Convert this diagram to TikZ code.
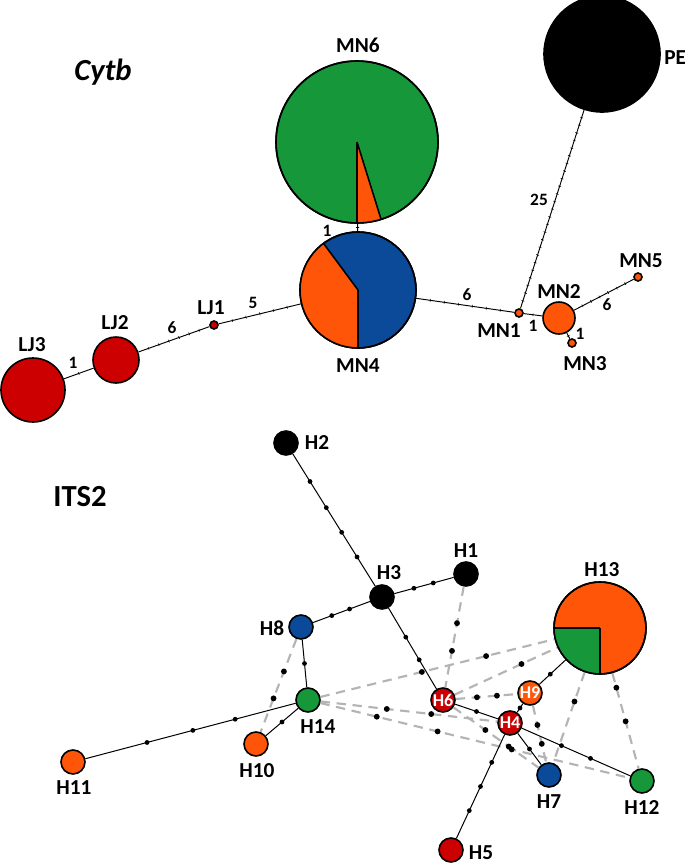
\documentclass[tikz,border=0pt]{standalone}
\usepackage{fontspec}
\setmainfont{Carlito}
\usetikzlibrary{calc,backgrounds,decorations.markings}
\definecolor{cgreen}{RGB}{22,152,58}
\definecolor{corange}{RGB}{255,85,8}
\definecolor{cblue}{RGB}{10,74,152}
\definecolor{cred}{RGB}{204,0,0}
\definecolor{cgray}{RGB}{180,180,180}
\newcommand\mydots[4]{\foreach \t in {#3}{\fill ($(#1)!\t!(#2)$) circle[radius=#4];}}
\begin{document}
\begin{tikzpicture}[x=0.75pt,y=-0.75pt,
  hap/.style={circle, draw=black, line width=1.2pt, inner sep=0pt, minimum size=#1*1.5pt},
  lab/.style={font=\bfseries\fontsize{16}{16}\selectfont, inner sep=0pt},
  num/.style={font=\bfseries\fontsize{13}{13}\selectfont, inner sep=0pt},
  inlab/.style={font=\bfseries\fontsize{13.5}{13.5}\selectfont, text=white},
  title/.style={font=\bfseries\fontsize{23}{23}\selectfont, inner sep=0pt},
  cyedge/.style={line width=0.7pt, black},
  mut/.style 2 args={postaction={decorate,decoration={markings,
      mark=between positions #1 and #2 step #1 with {\draw[line width=0.4pt] (0pt,-1.1pt) -- (0pt,1.1pt);}}}},
  sol/.style={line width=0.75pt, black},
  dsh/.style={cgray, line width=1.6pt, dash pattern=on 7pt off 5pt},
  sector/.style={line width=1.2pt, black}
]
\useasboundingbox (0,0) rectangle (685,864);

% ---------------- Cytb ----------------
\node[title] (tcyt) at (103,72) {\itshape Cytb};
\node[hap=81, fill=cgreen] (MN6) at (357,142) {};
\node[hap=58, fill=cblue] (MN4) at (358,290) {};
\node[hap=4, fill=cred] (LJ1) at (214,325) {};
\node[hap=23, fill=cred] (LJ2) at (116,360) {};
\node[hap=32, fill=cred] (LJ3) at (33,390) {};
\node[hap=4, fill=corange] (MN1) at (519,313) {};
\node[hap=16, fill=corange] (MN2) at (559,318) {};
\node[hap=4, fill=corange] (MN3) at (572,343) {};
\node[hap=4, fill=corange] (MN5) at (638,277) {};
\node[hap=58, fill=black] (PE) at (602,54) {};

% pie sectors
\fill[corange] (MN6.center) -- ++(-90:60.75pt) arc[start angle=-90, end angle=-72.7, radius=60.75pt] -- cycle;
\draw[sector] (MN6.center) -- ++(-90:60.75pt);
\draw[sector] (MN6.center) -- ++(-72.7:60.75pt);
\draw[sector] (MN6.center) circle[radius=60.75pt];

\fill[corange] (MN4.center) -- ++(126.5:43.5pt) arc[start angle=126.5, end angle=270, radius=43.5pt] -- cycle;
\draw[sector] (MN4.center) -- ++(126.5:43.5pt);
\draw[sector] (MN4.center) -- ++(-90:43.5pt);
\draw[sector] (MN4.center) circle[radius=43.5pt];

% labels
\node[lab] (lMN6) at (358,45) {MN6};
\node[lab] (lMN4) at (358,366) {MN4};
\node[lab] (lLJ1) at (211,308) {LJ1};
\node[lab] (lLJ2) at (115,323) {LJ2};
\node[lab] (lLJ3) at (32,345) {LJ3};
\node[lab] (lMN1) at (499,331) {MN1};
\node[lab] (lMN2) at (559,292) {MN2};
\node[lab] (lMN3) at (585,364) {MN3};
\node[lab] (lMN5) at (641,261) {MN5};
\node[lab, anchor=west] (lPE) at (664,58) {PE};
\node[num] (n1) at (73,363) {1};
\node[num] (n2) at (172,328) {6};
\node[num] (n3) at (253,303) {5};
\node[num] (n4) at (327,231) {1};
\node[num] (n5) at (467,295) {6};
\node[num] (n6) at (533,326) {1};
\node[num] (n7) at (580,334) {1};
\node[num] (n8) at (607,305) {6};
\node[num] (n9) at (539,200) {25};

% ---------------- ITS2 ----------------
\node[title] (tits) at (80,497) {ITS2};
\node[hap=12, fill=black] (H2) at (286,443) {};
\node[hap=12, fill=black] (H3) at (382,597) {};
\node[hap=12, fill=black] (H1) at (466,574) {};
\node[hap=12, fill=cblue] (H8) at (301,627) {};
\node[hap=12, fill=cgreen] (H14) at (308,700) {};
\node[hap=12, fill=corange] (H10) at (256,744) {};
\node[hap=12, fill=corange] (H11) at (73,762) {};
\node[hap=12, fill=cred, inlab] (H6) at (443,700) {H6};
\node[hap=12, fill=corange, inlab] (H9) at (530,693) {H9};
\node[hap=12, fill=cred, inlab] (H4) at (510,723) {H4};
\node[hap=12, fill=cblue] (H7) at (549,775) {};
\node[hap=12, fill=cgreen] (H12) at (642,781) {};
\node[hap=12, fill=cred] (H5) at (451,850) {};
\node[hap=46, fill=corange] (H13) at (600,628) {};
\fill[cgreen] (H13.center) -- ++(180:34.5pt) arc[start angle=180, end angle=270, radius=34.5pt] -- cycle;
\draw[sector] (H13.center) -- ++(180:34.5pt);
\draw[sector] (H13.center) -- ++(-90:34.5pt);
\draw[sector] (H13.center) circle[radius=34.5pt];

\node[lab] (lH2) at (317,442) {H2};
\node[lab] (lH3) at (389,573) {H3};
\node[lab] (lH1) at (466,551) {H1};
\node[lab] (lH8) at (272,628) {H8};
\node[lab] (lH14) at (318,727) {H14};
\node[lab] (lH10) at (257,771) {H10};
\node[lab] (lH11) at (74,788) {H11};
\node[lab] (lH13) at (602,570) {H13};
\node[lab] (lH7) at (549,802) {H7};
\node[lab] (lH12) at (642,807) {H12};
\node[lab] (lH5) at (481,853) {H5};

\begin{pgfonlayer}{background}
\fill[white] (0,0) rectangle (685,864);
% Cytb edges
\draw[cyedge, mut={0.5}{0.51}] (LJ3) -- (LJ2);
\draw[cyedge, mut={0.1429}{0.86}] (LJ2) -- (LJ1);
\draw[cyedge, mut={0.1667}{0.84}] (LJ1) -- (MN4);
\draw[cyedge, mut={0.5}{0.51}] (MN6) -- (MN4);
\draw[cyedge, mut={0.1429}{0.86}] (MN4) -- (MN1);
\draw[cyedge, mut={0.5}{0.51}] (MN1) -- (MN2);
\draw[cyedge, mut={0.5}{0.51}] (MN2) -- (MN3);
\draw[cyedge, mut={0.1429}{0.86}] (MN2) -- (MN5);
\draw[cyedge, mut={0.03846}{0.962}] (PE) -- (MN1);

% ITS2 dashed
\draw[dsh] (H1) -- (H6);
\draw[dsh] (H14) -- (H13);
\draw[dsh] (H6) -- (H13);
\draw[dsh] (H6) -- (H9);
\draw[dsh] (H14) -- (H4);
\draw[dsh] (H14) -- (H12);
\draw[dsh] (H6) -- (H7);
\draw[dsh] (H9) -- (H7);
\draw[dsh] (H13) -- (H7);
\draw[dsh] (H13) -- (H12);
\draw[dsh] (H8) -- (H10);
% ITS2 solid
\draw[sol] (H2) -- (H3);
\draw[sol] (H3) -- (H1);
\draw[sol] (H3) -- (H8);
\draw[sol] (H3) -- (H6);
\draw[sol] (H8) -- (H14);
\draw[sol] (H14) -- (H11);
\draw[sol] (H14) -- (H10);
\draw[sol] (H6) -- (H4);
\draw[sol] (H4) -- (H9);
\draw[sol] (H9) -- (H13);
\draw[sol] (H4) -- (H7);
\draw[sol] (H4) -- (H12);
\draw[sol] (H4) -- (H5);
% dots on dashed
\mydots{H1}{H6}{0.39,0.61}{2.2pt}
\mydots{H14}{H13}{0.39,0.61}{2.2pt}
\mydots{H6}{H13}{0.5}{2.2pt}
\mydots{H6}{H9}{0.39,0.62}{2.2pt}
\mydots{H14}{H4}{0.39,0.61}{2.2pt}
\mydots{H14}{H12}{0.206,0.388,0.61}{2.2pt}
\mydots{H6}{H7}{0.40,0.62}{2.2pt}
\mydots{H9}{H7}{0.39,0.62}{2.2pt}
\mydots{H13}{H7}{0.5}{2.2pt}
\mydots{H13}{H12}{0.39,0.61}{2.2pt}
\mydots{H8}{H10}{0.38,0.61}{2.2pt}
% dots on solid
\mydots{H2}{H3}{0.25,0.42,0.58,0.74}{1.8pt}
\mydots{H3}{H1}{0.38,0.61}{1.8pt}
\mydots{H3}{H8}{0.40,0.62}{1.8pt}
\mydots{H3}{H6}{0.39,0.61}{1.8pt}
\mydots{H8}{H14}{0.5}{1.8pt}
\mydots{H14}{H11}{0.31,0.49,0.685}{1.8pt}
\mydots{H14}{H10}{0.5}{1.8pt}
\mydots{H6}{H4}{0.5}{1.8pt}
\mydots{H4}{H9}{0.5}{1.8pt}
\mydots{H9}{H13}{0.29}{1.8pt}
\mydots{H4}{H7}{0.5}{1.8pt}
\mydots{H4}{H12}{0.39,0.61}{1.8pt}
\mydots{H4}{H5}{0.31,0.50,0.69}{1.8pt}
\end{pgfonlayer}
\end{tikzpicture}
\end{document}
